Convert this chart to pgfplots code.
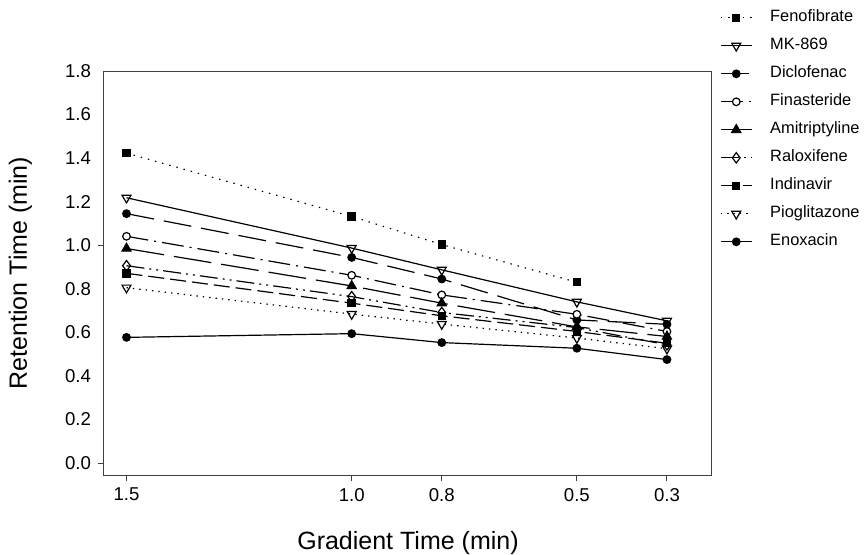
\documentclass[border=0pt]{standalone}
\usepackage{fontspec}
\setmainfont{Liberation Sans}
\usepackage{pgfplots}
\pgfplotsset{compat=1.18}
\begin{document}
\begin{tikzpicture}
\begin{axis}[
  scale only axis,
  width=304pt, height=202pt,
  x dir=reverse,
  xmin=0.2, xmax=1.55,
  ymin=-0.055, ymax=1.8,
  axis line style={black!75, line width=0.5pt},
  tick align=outside,
  xtick pos=bottom, ytick pos=left,
  major tick length=3pt,
  tick style={black!75, line width=0.5pt},
  xtick={1.5,1.0,0.8,0.5,0.3},
  xticklabels={1.5,1.0,0.8,0.5,0.3},
  ytick={0,1},
  yticklabels={0.0,1.0},
  extra y ticks={0.2,0.4,0.6,0.8,1.2,1.4,1.6,1.8},
  extra y tick labels={0.2,0.4,0.6,0.8,1.2,1.4,1.6,1.8},
  extra y tick style={tick style={draw=none}},
  tick label style={font=\fontsize{9.3}{11}\selectfont},
  every axis x label/.style={at={([yshift=-37pt]axis description cs:0.5,0)}, anchor=base},
  every axis y label/.style={at={([xshift=-38.5pt]axis description cs:0,0.5)}, rotate=90, anchor=base},
  label style={font=\fontsize{12.5}{15}\selectfont},
  xlabel={Gradient Time (min)},
  ylabel={Retention Time (min)},
  legend cell align=left,
  legend style={draw=none, fill=none, inner sep=0pt,
    at={(axis description cs:1.013,1.15)}, anchor=north west,
    font=\fontsize{8.2}{10}\selectfont,
    row sep=7pt, column sep=9pt,
    nodes={inner sep=0pt, text height=5.5pt, text depth=1.5pt}},
  legend image code/.code={\draw[mark repeat=2,mark phase=2,#1] plot coordinates {(0cm,0cm) (0.27cm,0cm) (0.54cm,0cm)};},
  every axis plot/.append style={black, line width=0.6pt},
]
\coordinate (SW) at (rel axis cs:0,0);
% Fenofibrate
\addplot[dash pattern=on 0.7pt off 3pt, mark=square*, mark size=1.8pt, mark options={solid}]
  coordinates {(1.5,1.423) (1.0,1.132) (0.8,1.003) (0.5,0.830)};
\addlegendentry{Fenofibrate}
% MK-869
\addplot[solid, mark=triangle, mark size=2.6pt, mark options={solid, fill=white, rotate=180}]
  coordinates {(1.5,1.218) (1.0,0.987) (0.8,0.887) (0.5,0.740) (0.3,0.653)};
\addlegendentry{MK-869}
% Diclofenac
\addplot[dash pattern=on 14pt off 5pt, mark=*, mark size=1.9pt, mark options={solid}]
  coordinates {(1.5,1.145) (1.0,0.944) (0.8,0.845) (0.5,0.657) (0.3,0.637)};
\addlegendentry{Diclofenac}
% Finasteride
\addplot[dash pattern=on 11pt off 3pt on 1pt off 3pt, mark=*, mark size=1.9pt, mark options={solid, fill=white}]
  coordinates {(1.5,1.041) (1.0,0.862) (0.8,0.772) (0.5,0.683) (0.3,0.604)};
\addlegendentry{Finasteride}
% Amitriptyline
\addplot[dash pattern=on 19pt off 5pt, mark=triangle*, mark size=2.6pt, mark options={solid}]
  coordinates {(1.5,0.985) (1.0,0.813) (0.8,0.734) (0.5,0.625) (0.3,0.581)};
\addlegendentry{Amitriptyline}
% Raloxifene
\addplot[dash pattern=on 9pt off 2.5pt on 1pt off 2.5pt on 1pt off 2.5pt, mark=diamond, mark size=2.6pt, mark options={solid, fill=white}]
  coordinates {(1.5,0.906) (1.0,0.764) (0.8,0.691) (0.5,0.622) (0.3,0.543)};
\addlegendentry{Raloxifene}
% Indinavir
\addplot[dash pattern=on 8pt off 3pt, mark=square*, mark size=1.8pt, mark options={solid}]
  coordinates {(1.5,0.871) (1.0,0.734) (0.8,0.676) (0.5,0.604) (0.3,0.550)};
\addlegendentry{Indinavir}
% Pioglitazone
\addplot[dash pattern=on 0.7pt off 2.5pt, mark=triangle, mark size=2.6pt, mark options={solid, fill=white, rotate=180}]
  coordinates {(1.5,0.805) (1.0,0.684) (0.8,0.638) (0.5,0.574) (0.3,0.525)};
\addlegendentry{Pioglitazone}
% Enoxacin
\addplot[solid, mark=*, mark size=1.9pt, mark options={solid}]
  coordinates {(1.5,0.577) (1.0,0.594) (0.8,0.553) (0.5,0.527) (0.3,0.475)};
\addlegendentry{Enoxacin}
\end{axis}
\pgfresetboundingbox
\path[use as bounding box] ([xshift=-52pt,yshift=-39.5pt]SW) rectangle ([xshift=380pt,yshift=237.5pt]SW);
\end{tikzpicture}
\end{document}
